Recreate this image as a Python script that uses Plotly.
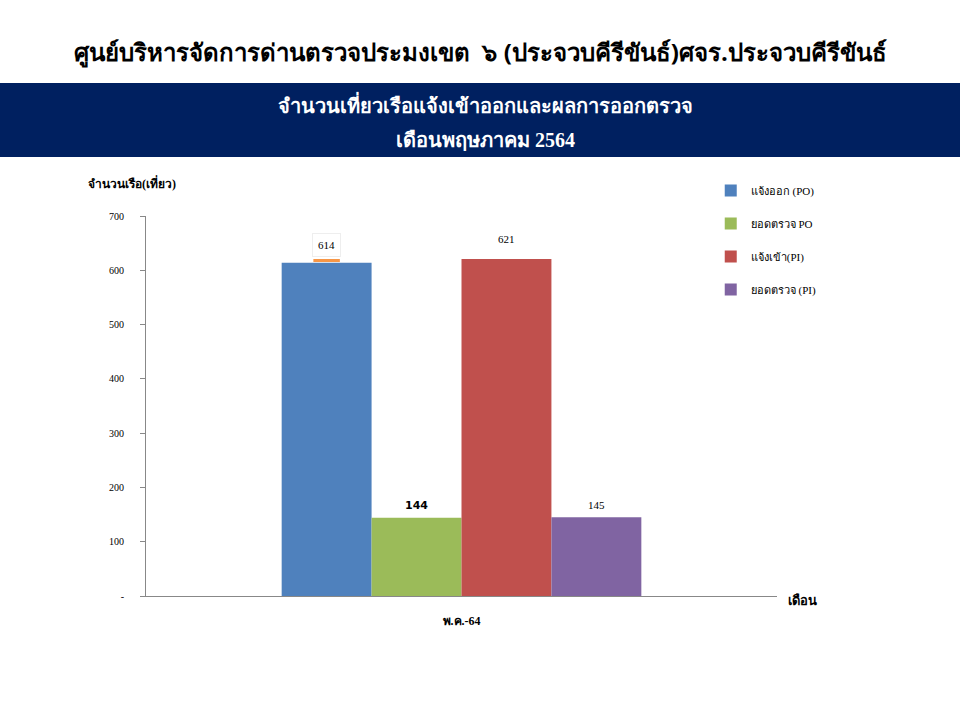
import plotly.graph_objects as go

# data
month = ["พ.ค.-64"]
series_names = ["แจ้งออก (PO)", "ยอดตรวจ PO", "แจ้งเข้า(PI)", "ยอดตรวจ (PI)"]
series_values = [[614], [144], [621], [145]]
series_colors = ["#4F81BD", "#9BBB59", "#C0504D", "#8064A2"]
y_ticks = [0, 100, 200, 300, 400, 500, 600, 700]
y_ticklabels = ["-", "100", "200", "300", "400", "500", "600", "700"]

serif = "Liberation Serif, Times New Roman, serif"

fig = go.Figure()
for i, (name, vals, col) in enumerate(zip(series_names, series_values, series_colors)):
    fig.add_trace(go.Bar(
        x=month, y=vals, name=name, marker_color=col,
        marker_line_width=0, legendgroup=str(i),
    ))

# value labels above the bars
n = len(series_names)
group_w = 0.57
bar_w = group_w / n
label_fonts = [
    dict(family=serif, size=11, color="black"),
    dict(family="DejaVu Sans, sans-serif", size=11, color="black", weight="bold"),
    dict(family=serif, size=11, color="black"),
    dict(family=serif, size=11, color="black"),
]
label_shift = [6, 0, 8, 0]
for i, vals in enumerate(series_values):
    xc = -group_w / 2 + bar_w * (i + 0.5)
    fig.add_annotation(
        x=xc, y=vals[0], xref="x", yref="y", text=str(vals[0]),
        showarrow=False, yanchor="bottom", yshift=label_shift[i],
        font=label_fonts[i],
        bgcolor="white" if i == 0 else None,
        bordercolor="#eeeeee" if i == 0 else None, borderpad=5,
    )
    if i == 0:
        fig.add_shape(type="line", xref="x", yref="y",
                      x0=xc - 0.021, x1=xc + 0.021, y0=vals[0] + 4, y1=vals[0] + 4,
                      line=dict(color="#F79646", width=3))

# header
fig.add_shape(type="rect", xref="paper", yref="paper", x0=-0.4, x1=1.4,
              y0=1.155, y1=1.35, fillcolor="#002060", line_width=0, layer="below")
fig.add_annotation(text="ศูนย์บริหารจัดการด่านตรวจประมงเขต  ๖ (ประจวบคีรีขันธ์)ศจร.ประจวบคีรีขันธ์",
                   xref="paper", yref="paper", x=0.53, y=1.482, showarrow=False,
                   font=dict(size=24, color="black", weight="bold"))
fig.add_annotation(text="จำนวนเที่ยวเรือแจ้งเข้าออกและผลการออกตรวจ",
                   xref="paper", yref="paper", x=0.538, y=1.333, showarrow=False,
                   font=dict(family=serif, size=20, color="white", weight="bold"))
fig.add_annotation(text="เดือนพฤษภาคม 2564",
                   xref="paper", yref="paper", x=0.538, y=1.235, showarrow=False,
                   font=dict(family=serif, size=20, color="white", weight="bold"))

# axis titles
fig.add_annotation(text="จำนวนเรือ(เที่ยว)", xref="paper", yref="paper",
                   x=-0.095, y=1.113, xanchor="left", showarrow=False,
                   font=dict(family=serif, size=12, color="black", weight="bold"))
fig.add_annotation(text="เดือน", xref="paper", yref="paper",
                   x=1.015, y=-0.036, xanchor="left", showarrow=False,
                   font=dict(family=serif, size=13, color="black", weight="bold"))

fig.update_layout(
    width=960, height=720,
    margin=dict(l=146, r=183, t=216, b=124),
    plot_bgcolor="white", paper_bgcolor="white",
    barmode="group", bargap=0.43, bargroupgap=0,
    showlegend=True,
    legend=dict(x=0.895, y=1.105, xanchor="left", yanchor="top",
                font=dict(family=serif, size=11, color="black"),
                tracegroupgap=14, itemwidth=30),
    xaxis=dict(showline=True, linecolor="#888888", linewidth=1,
               tickfont=dict(family=serif, size=12, color="black", weight="bold"),
               ticks="", ticklabelstandoff=14),
    yaxis=dict(range=[0, 700], tickvals=y_ticks, ticktext=y_ticklabels,
               showline=True, linecolor="#888888", linewidth=1,
               ticks="outside", ticklen=5, tickcolor="#888888",
               showgrid=False, zeroline=False, ticklabelstandoff=14,
               tickfont=dict(family=serif, size=10, color="black")),
)

fig.write_html("out.html", config={"displayModeBar": False},
               post_script="document.body.style.margin='0';")
